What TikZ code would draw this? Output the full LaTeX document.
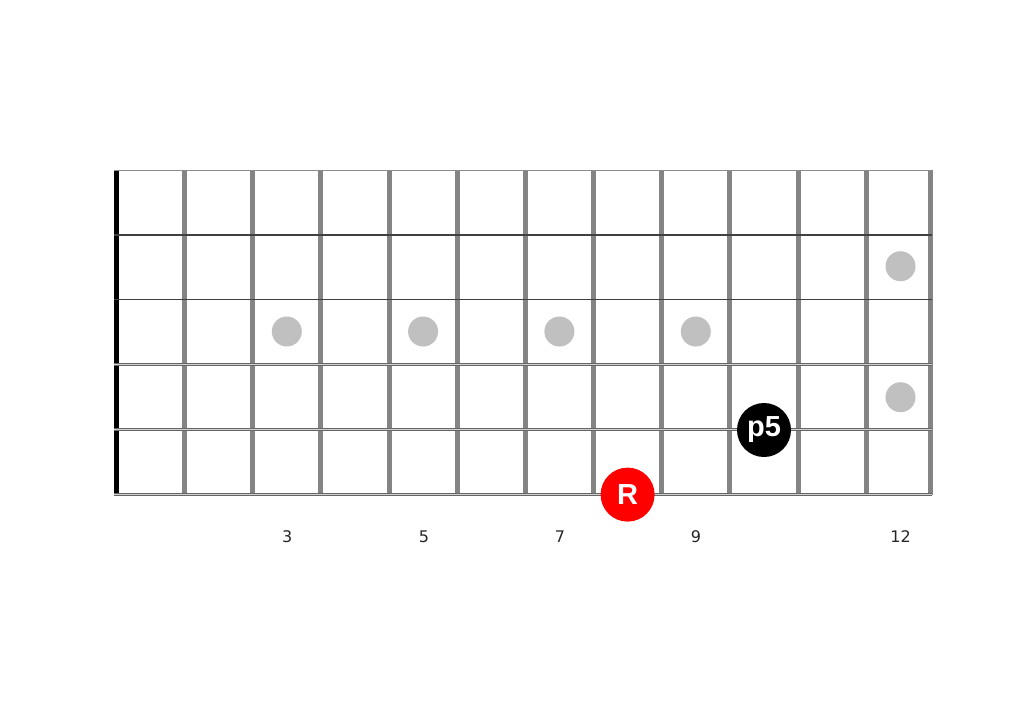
\documentclass[tikz,border=0pt]{standalone}
\usepackage{fontspec}
\setmainfont{DejaVu Sans}
\newfontfamily\notefont{Liberation Sans}
\definecolor{fretgray}{HTML}{848484}
\definecolor{dotgray}{HTML}{C0C0C0}
\definecolor{stringdark}{HTML}{404040}
\definecolor{woundlight}{HTML}{D0D0D0}
\tikzset{
	fret/.style={line width=5pt,color=fretgray},
	plainstring/.style={line width=1.2pt,color=stringdark},
	woundstring/.style={line width=3.4pt,color=stringdark!80,
		postaction={draw,line width=1.3pt,color=woundlight}},
	inlay/.style={circle,fill=dotgray,inner sep=0pt,minimum size=30pt},
	note/.style={circle,inner sep=0pt,minimum size=54pt,text=white,font=\notefont\bfseries\fontsize{29}{29}\selectfont},
	fretnum/.style={font=\fontsize{16}{16}\selectfont,text=black!85}
}
\begin{document}
\begin{tikzpicture}[line cap=butt,line join=round,x=1pt,y=-1pt]
		\useasboundingbox[fill=white] (0,0) rectangle (1024,724);
		% frets
		\draw [fret] (184.6,170)-- (184.6,495);
		\draw [fret] (252.7,170)-- (252.7,495);
		\draw [fret] (320.8,170)-- (320.8,495);
		\draw [fret] (389.0,170)-- (389.0,495);
		\draw [fret] (457.1,170)-- (457.1,495);
		\draw [fret] (525.3,170)-- (525.3,495);
		\draw [fret] (593.5,170)-- (593.5,495);
		\draw [fret] (661.7,170)-- (661.7,495);
		\draw [fret] (729.9,170)-- (729.9,495);
		\draw [fret] (798.1,170)-- (798.1,495);
		\draw [fret] (866.2,170)-- (866.2,495);
		\draw [fret] (930.0,170)-- (930.0,495);
		% nut
		\fill [black] (114.2,170) rectangle (119.2,495);
		% strings
		\draw [line width=1.4pt,color=black!45] (114.2,170.2)-- (932.4,170.2);
		\draw [plainstring] (114.2,235)-- (932.4,235);
		\draw [plainstring] (114.2,299.6)-- (932.4,299.6);
		\draw [woundstring] (114.2,364.4)-- (932.4,364.4);
		\draw [woundstring] (114.2,429.4)-- (932.4,429.4);
		\draw [woundstring] (114.2,494.6)-- (932.4,494.6);
		% inlays
		\node [inlay] (inlay3) at (286.8,331.5) {};
		\node [inlay] (inlay5) at (423.1,331.5) {};
		\node [inlay] (inlay7) at (559.4,331.5) {};
		\node [inlay] (inlay9) at (695.8,331.5) {};
		\node [inlay] (inlay12a) at (900.5,266.2) {};
		\node [inlay] (inlay12b) at (900.5,397.2) {};
		% notes
		\node [note,fill=red] (root) at (627.6,494.6) {R};
		\node [note,fill=black] (fifth) at (764.0,430.0) {p5};
		% fret numbers
		\node [fretnum] (num3) at (287.2,536.5) {3};
		\node [fretnum] (num5) at (424.0,536.5) {5};
		\node [fretnum] (num7) at (560.0,536.5) {7};
		\node [fretnum] (num9) at (696.0,536.5) {9};
		\node [fretnum] (num12) at (900.5,536.5) {12};
	\end{tikzpicture}
\end{document}
